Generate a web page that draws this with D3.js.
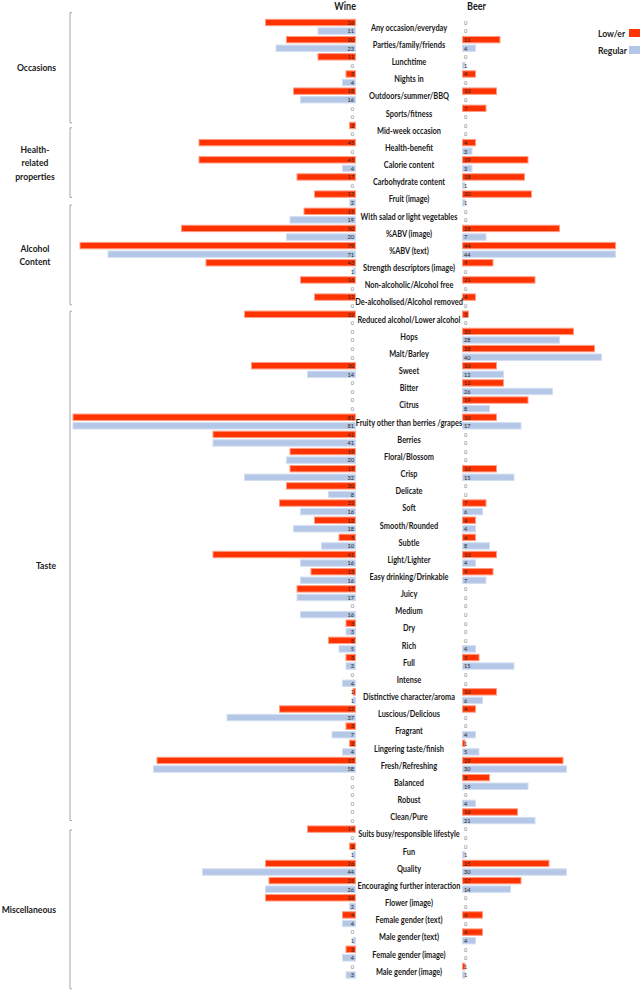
<!DOCTYPE html>
<html><head><meta charset="utf-8">
<script src="https://cdn.jsdelivr.net/npm/d3@7"></script>
<style>body{margin:0;background:#fff}</style>
</head><body>
<svg id="c" width="642" height="992"></svg>
<script>
const categories = ["Any occasion/everyday","Parties/family/friends","Lunchtime","Nights in","Outdoors/summer/BBQ","Sports/fitness","Mid-week occasion","Health-benefit","Calorie content","Carbohydrate content","Fruit (image)","With salad or light vegetables","%ABV (image)","%ABV (text)","Strength descriptors (image)","Non-alcoholic/Alcohol free","De-alcoholised/Alcohol removed","Reduced alcohol/Lower alcohol","Hops","Malt/Barley","Sweet","Bitter","Citrus","Fruity other than berries /grapes","Berries","Floral/Blossom","Crisp","Delicate","Soft","Smooth/Rounded","Subtle","Light/Lighter","Easy drinking/Drinkable","Juicy","Medium","Dry","Rich","Full","Intense","Distinctive character/aroma","Luscious/Delicious","Fragrant","Lingering taste/finish","Fresh/Refreshing","Balanced","Robust","Clean/Pure","Suits busy/responsible lifestyle","Fun","Quality","Encouraging further interaction","Flower (image)","Female gender (text)","Male gender (text)","Female gender (image)","Male gender (image)"];
const wineLow     = [26,20,11,3,18,0,2,45,45,17,12,15,50,79,43,16,12,32,0,0,30,0,0,81,41,19,19,20,22,12,5,41,13,17,0,3,8,3,0,1,22,3,2,57,0,0,0,14,2,26,25,26,4,0,3,0];
const wineRegular = [11,23,0,4,16,0,0,0,4,0,2,19,20,71,1,0,0,0,0,0,14,0,0,81,41,20,32,8,16,18,10,16,16,17,16,3,5,3,4,1,37,7,4,58,0,0,0,0,1,44,26,2,4,1,4,3];
const beerLow     = [0,11,0,4,10,7,0,4,19,18,20,0,28,44,9,21,4,2,32,38,10,12,19,10,0,0,10,0,7,4,4,10,9,0,0,0,0,5,0,10,4,0,1,29,8,0,16,0,0,25,17,0,6,6,0,1];
const beerRegular = [0,4,1,0,0,0,0,3,3,1,1,0,7,44,0,0,0,0,28,40,12,26,8,17,0,0,15,0,6,4,8,4,7,0,0,0,4,15,0,6,0,4,5,30,19,4,21,0,1,30,14,0,0,4,0,1];
const seriesNames = ["Low/er","Regular"];
const panelTitles = ["Wine","Beer"];
const groupLabels = [["Occasions"],["Health-","related","properties"],["Alcohol","Content"],["Taste"],["Miscellaneous"]];
const groupSpans = [[-0.575,5.85],[6.135,10.19],[10.635,16.45],[16.825,46.5],[47.05,56.3]];

const colors = {"Low/er":{fill:"#ff3300",stroke:"#ff9c85"},"Regular":{fill:"#b4c7e7",stroke:"#d3def1"}};
const FONT = "Lato, 'Open Sans', sans-serif";
const NARROW = 0.86; // Lato is wider than the reference's Calibri-like face
const svg = d3.select("#c");
svg.append("rect").attr("width",642).attr("height",992).attr("fill","#fff");

const y = d3.scaleLinear().domain([0, categories.length - 0.5]).range([22.5, 975]);
const xWine = d3.scaleLinear().domain([0,100]).range([356, 6]);
const xBeer = d3.scaleLinear().domain([0,100]).range([462, 812]);
const barH = 6.4;

const rows = [];
categories.forEach((c,i)=>{
  rows.push({cat:c,i,s:"Low/er",p:i,wine:wineLow[i],beer:beerLow[i]});
  rows.push({cat:c,i,s:"Regular",p:i+0.5,wine:wineRegular[i],beer:beerRegular[i]});
});

// wine bars
const gW = svg.append("g");
gW.selectAll("rect").data(rows.filter(d=>d.wine>0)).join("rect")
  .attr("x",d=>xWine(d.wine)+0.5).attr("width",d=>xWine(0)-xWine(d.wine)-1)
  .attr("y",d=>y(d.p)-barH/2).attr("height",barH)
  .attr("fill",d=>colors[d.s].fill).attr("stroke",d=>colors[d.s].stroke).attr("stroke-width",1);
gW.selectAll("text").data(rows).join("text")
  .attr("x",xWine(0)-2).attr("y",d=>y(d.p)).attr("dy","0.36em")
  .attr("text-anchor","end").attr("font-family",FONT).attr("font-size",6.5)
  .attr("fill",d=>d.wine>0?"#262626":"#808080").text(d=>d.wine);

// beer bars
const gB = svg.append("g");
gB.selectAll("rect").data(rows.filter(d=>d.beer>0)).join("rect")
  .attr("x",xBeer(0)+0.5).attr("width",d=>xBeer(d.beer)-xBeer(0)-1)
  .attr("y",d=>y(d.p)-barH/2).attr("height",barH)
  .attr("fill",d=>colors[d.s].fill).attr("stroke",d=>colors[d.s].stroke).attr("stroke-width",1);
gB.selectAll("text").data(rows).join("text")
  .attr("x",xBeer(0)+2).attr("y",d=>y(d.p)).attr("dy","0.36em")
  .attr("text-anchor","start").attr("font-family",FONT).attr("font-size",6.5)
  .attr("fill",d=>d.beer>0?"#262626":"#808080").text(d=>d.beer);

// category labels
svg.append("g").selectAll("text").data(categories).join("text")
  .attr("x",409).attr("y",(d,i)=>y(i+0.25)+1).attr("dy","0.35em")
  .attr("text-anchor","middle").attr("font-family",FONT).attr("font-weight","bold")
  .attr("font-size",8.6).attr("fill","#1a1a1a").text(d=>d);

// titles
svg.append("text").attr("x",xWine(0)).attr("y",9.5).attr("text-anchor","end")
  .attr("font-family",FONT).attr("font-weight","bold").attr("font-size",10.5).attr("fill","#1a1a1a").text(panelTitles[0]);
svg.append("text").attr("x",xBeer(0)+5).attr("y",9.5).attr("text-anchor","start")
  .attr("font-family",FONT).attr("font-weight","bold").attr("font-size",10.5).attr("fill","#1a1a1a").text(panelTitles[1]);

// legend
seriesNames.forEach((s,k)=>{
  const ly = 33 + k*17;
  svg.append("text").attr("x",598).attr("y",ly).attr("dy","0.35em")
    .attr("font-family",FONT).attr("font-weight","bold").attr("font-size",10).attr("fill","#1a1a1a").text(s);
  svg.append("rect").attr("x",629).attr("y",ly-4).attr("width",11).attr("height",8)
    .attr("fill",colors[s].fill);
});

// group brackets + labels
const gG = svg.append("g");
groupSpans.forEach((sp,k)=>{
  const y1 = y(sp[0]), y2 = y(sp[1]);
  gG.append("path").attr("d",`M72,${y1}H70V${y2}H72`).attr("fill","none")
    .attr("stroke","#a6a6a6").attr("stroke-width",1);
  const lines = groupLabels[k];
  const cy = (y1+y2)/2;
  const lh = 13.5;
  const t = gG.append("text").attr("font-family",FONT).attr("font-weight","bold")
    .attr("font-size",10).attr("fill","#1a1a1a")
    .attr("text-anchor", lines.length>1 ? "middle" : "end");
  lines.forEach((ln,j)=>{
    t.append("tspan").attr("x", lines.length>1 ? 35 : 56)
      .attr("y", cy + (j-(lines.length-1)/2)*lh).attr("dy","0.35em").text(ln);
  });
});

// horizontally condense text to mimic the narrower reference typeface
svg.selectAll("text").each(function(){
  const tsp = d3.select(this).selectAll("tspan");
  if (tsp.size()) {
    tsp.each(function(){
      const w = this.getComputedTextLength();
      this.setAttribute("textLength", w*NARROW);
      this.setAttribute("lengthAdjust","spacingAndGlyphs");
    });
  } else {
    const w = this.getComputedTextLength();
    this.setAttribute("textLength", w*NARROW);
    this.setAttribute("lengthAdjust","spacingAndGlyphs");
  }
});
</script>
</body></html>
